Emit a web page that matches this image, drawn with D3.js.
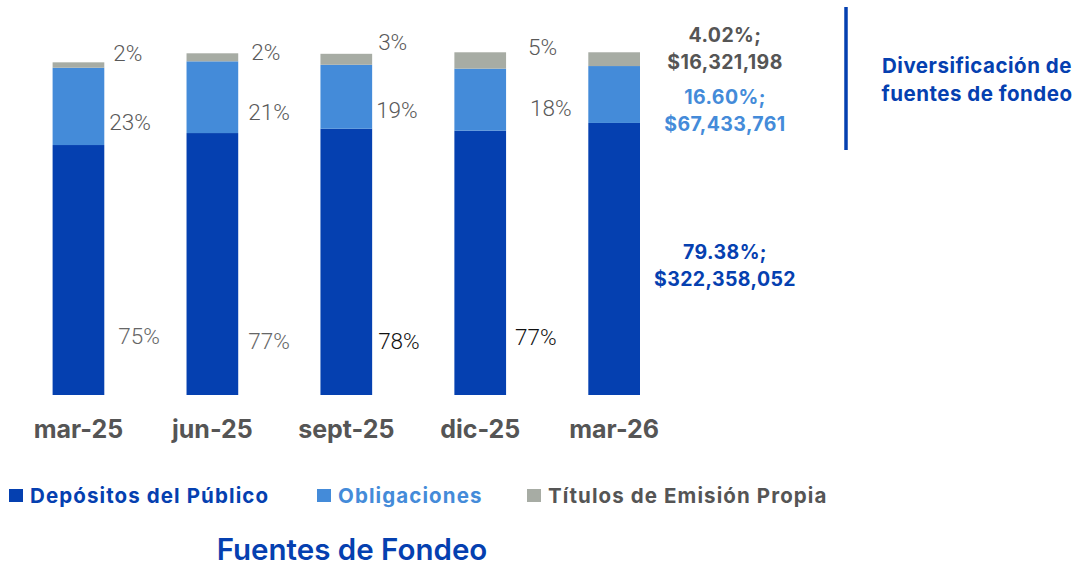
<!DOCTYPE html>
<html>
<head>
<meta charset="utf-8">
<script src="https://cdn.jsdelivr.net/npm/d3@7"></script>
<style>
    body { margin: 0; background: #fff; }
    svg { display: block; }
    text { font-family: Inter, "Noto Sans", sans-serif; }
    .pct { font-family: Roboto, sans-serif; font-weight: 300; font-size: 22.5px; }
</style>
</head>
<body>
<div id="chart"></div>
<script>
// periods
var periodos = ["mar-25", "jun-25", "sept-25", "dic-25", "mar-26"];
// amounts in millions of pesos
var depositos = [296.2, 310.4, 315.5, 313.2, 322.358];
var obligaciones = [91.6, 85.0, 75.8, 73.5, 67.434];
var titulos = [6.4, 9.5, 13.0, 19.4, 16.321];
// percentage labels as shown on the slide
var pctDepositos = ["75%", "77%", "78%", "77%"];
var pctObligaciones = ["23%", "21%", "19%", "18%"];
var pctTitulos = ["2%", "2%", "3%", "5%"];
// last period labels
var ultimoDepositos = ["79.38%;", "$322,358,052"];
var ultimoObligaciones = ["16.60%;", "$67,433,761"];
var ultimoTitulos = ["4.02%;", "$16,321,198"];
var series = ["Depósitos del Público", "Obligaciones", "Títulos de Emisión Propia"];

var colores = ["#0540b0", "#448bd9", "#a7aca4"];
var colTexto = ["#0540b0", "#448bd9", "#555555"];

var W = 1079, H = 567;
var svg = d3.select("#chart").append("svg")
    .attr("width", W)
    .attr("height", H);

var xScale = d3.scaleBand().domain(periodos)
    .range([52.6, 640]).paddingInner(0.614).paddingOuter(0);
var yScale = d3.scaleLinear().domain([0, 460]).range([395, 6.8]);

var data = periodos.map(function(p, i) {
    return { periodo: p, dep: depositos[i], obl: obligaciones[i], tit: titulos[i] };
});
var stack = d3.stack().keys(["dep", "obl", "tit"])(data);

//Draw bars
svg.selectAll(".serie")
    .data(stack)
    .enter().append("g")
    .attr("fill", function(d, i) { return colores[i]; })
    .selectAll("rect")
    .data(function(d) { return d; })
    .enter().append("rect")
    .attr("x", function(d) { return xScale(d.data.periodo); })
    .attr("width", xScale.bandwidth())
    .attr("y", function(d) { return yScale(d[1]); })
    .attr("height", function(d) { return yScale(d[0]) - yScale(d[1]); });

// category axis
var xAxis = d3.axisBottom(xScale).tickSize(0).tickPadding(0);
svg.append("g")
    .attr("transform", "translate(0,438)")
    .call(xAxis)
    .call(function(g) { g.select(".domain").remove(); })
    .selectAll("text")
    .attr("dy", 0)
    .attr("fill", "#555555")
    .style("font-family", "Inter, sans-serif")
    .style("font-size", "25px")
    .style("font-weight", "700");

// percentage labels, nudged like on the slide (dx from bar edge, y center)
var nudgeTit = [[9, 53], [13, 52], [6, 42], [22, 47]];
var nudgeObl = [[5, 122], [10, 112], [4, 110], [24, 108]];
var nudgeDep = [[14, 336], [10, 341], [6, 341], [9, 337]];
var colorDep = ["#666666", "#666666", "#111111", "#111111"];

function etiquetas(textos, nudges, colores2) {
    svg.append("g").selectAll("text")
        .data(textos)
        .enter().append("text")
        .attr("class", "pct")
        .attr("x", function(d, i) { return xScale(periodos[i]) + xScale.bandwidth() + nudges[i][0]; })
        .attr("y", function(d, i) { return nudges[i][1]; })
        .attr("dy", "0.36em")
        .attr("fill", function(d, i) { return colores2 ? colores2[i] : "#595959"; })
        .text(function(d) { return d; });
}
etiquetas(pctTitulos, nudgeTit);
etiquetas(pctObligaciones, nudgeObl);
etiquetas(pctDepositos, nudgeDep, colorDep);

// last period: two-line bold labels
var xUlt = xScale("mar-26") + xScale.bandwidth() + 85;
function ultimo(lineas, yTop, color) {
    svg.append("text")
        .attr("x", xUlt)
        .attr("y", yTop)
        .attr("text-anchor", "middle")
        .attr("fill", color)
        .style("font-size", "19.5px")
        .style("font-weight", "700")
        .style("letter-spacing", "0.4px")
        .selectAll("tspan")
        .data(lineas)
        .enter().append("tspan")
        .attr("x", xUlt)
        .attr("dy", function(d, i) { return i ? 26.5 : 0; })
        .text(function(d) { return d; });
}
ultimo(ultimoTitulos, 42, colTexto[2]);
ultimo(ultimoObligaciones, 104, colTexto[1]);
ultimo(ultimoDepositos, 259, colTexto[0]);

// side note
svg.append("line")
    .attr("x1", 846).attr("x2", 846)
    .attr("y1", 7).attr("y2", 150)
    .attr("stroke", "#0540b0")
    .attr("stroke-width", 3.5);

svg.append("text")
    .attr("text-anchor", "middle")
    .attr("fill", "#0540b0")
    .style("font-size", "20.5px")
    .style("font-weight", "700")
    .style("letter-spacing", "0.5px")
    .selectAll("tspan")
    .data(["Diversificación de", "fuentes de fondeo"])
    .enter().append("tspan")
    .attr("x", 977)
    .attr("y", function(d, i) { return 72.5 + i * 28; })
    .text(function(d) { return d; });

// legend
var legX = [9, 317, 527];
var leg = svg.append("g").selectAll("g")
    .data(series)
    .enter().append("g")
    .attr("transform", function(d, i) { return "translate(" + legX[i] + ",495.5)"; });
leg.append("rect")
    .attr("y", -6.5).attr("width", 14).attr("height", 13)
    .attr("fill", function(d, i) { return colores[i]; });
leg.append("text")
    .attr("x", 21)
    .attr("dy", "0.36em")
    .attr("fill", function(d, i) { return colTexto[i]; })
    .style("font-size", "20.5px")
    .style("font-weight", "700")
    .style("letter-spacing", "1.1px")
    .text(function(d) { return d; });

// title
svg.append("text")
    .attr("x", 352)
    .attr("y", 549)
    .attr("dy", "0.36em")
    .attr("text-anchor", "middle")
    .attr("fill", "#0540b0")
    .style("font-size", "29.5px")
    .style("font-weight", "600")
    .text("Fuentes de Fondeo");
</script>
</body>
</html>
